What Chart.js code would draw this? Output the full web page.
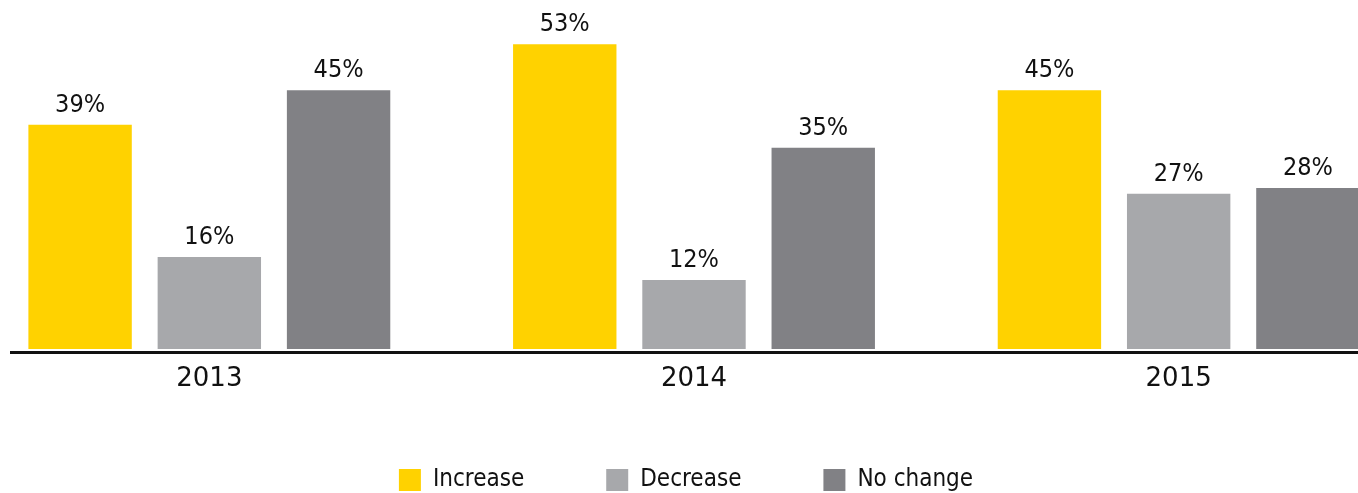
<!DOCTYPE html>
<html>
<head>
<meta charset="utf-8">
<script src="https://cdn.jsdelivr.net/npm/chart.js@4"></script>
<style>
  html, body { margin: 0; padding: 0; background: #fff; overflow: hidden; }
  /* plot is wider than the window so the outer groups sit near the edges */
  #wrap { position: absolute; left: -49px; top: 0; width: 1470px; height: 493px; }
</style>
</head>
<body>
<div id="wrap"><canvas id="changeChart"></canvas></div>
<script>
const years = ['2013', '2014', '2015'];
const increase = [39, 53, 45];
const decrease = [16, 12, 27];
const noChange = [45, 35, 28];

const YELLOW = '#FFD200';
const LIGHT_GREY = '#A7A8AB';
const DARK_GREY = '#818185';

// value labels above each bar
const barValues = {
    id: 'barValues',
    afterDatasetsDraw(chart) {
        const ctx = chart.ctx;
        ctx.save();
        ctx.font = '25px "DejaVu Sans Condensed"';
        ctx.fillStyle = '#111';
        ctx.textAlign = 'center';
        ctx.textBaseline = 'alphabetic';
        chart.data.datasets.forEach((ds, i) => {
            chart.getDatasetMeta(i).data.forEach((bar, j) => {
                ctx.fillText(ds.data[j] + '%', bar.x, bar.y - 13);
            });
        });
        ctx.restore();
    }
};

// heavy baseline under the bars
const baseLine = {
    id: 'baseLine',
    afterDatasetsDraw(chart) {
        const { ctx, chartArea, width } = chart;
        const y = chartArea.bottom + 3.5;
        ctx.save();
        ctx.strokeStyle = '#111';
        ctx.lineWidth = 3;
        ctx.beginPath();
        ctx.moveTo(59, y);
        ctx.lineTo(width, y);
        ctx.stroke();
        ctx.restore();
    }
};

new Chart(document.getElementById('changeChart'), {
    type: 'bar',
    data: {
        labels: years,
        datasets: [
            { label: 'Increase', data: increase, backgroundColor: YELLOW },
            { label: 'Decrease', data: decrease, backgroundColor: LIGHT_GREY },
            { label: 'No change', data: noChange, backgroundColor: DARK_GREY }
        ]
    },
    options: {
        responsive: true,
        maintainAspectRatio: false,
        animation: false,
        datasets: {
            bar: { barPercentage: 0.8, categoryPercentage: 0.8 }
        },
        layout: { padding: { top: 4, bottom: -9, left: 0, right: 0 } },
        plugins: {
            tooltip: { enabled: false },
            legend: {
                position: 'bottom',
                labels: {
                    boxWidth: 22,
                    boxHeight: 22,
                    padding: 82,
                    color: '#111',
                    font: { family: 'DejaVu Sans Condensed', size: 24 }
                }
            }
        },
        scales: {
            x: {
                grid: { display: false, drawTicks: false },
                border: { display: false },
                ticks: {
                    color: '#111',
                    padding: 15,
                    font: { family: 'DejaVu Sans', size: 26 }
                },
                // keep the year row tight so the legend sits low
                afterFit(scale) {
                    scale.height = 37;
                }
            },
            y: {
                min: 0,
                max: 60,
                grid: { display: false },
                border: { display: false },
                ticks: { display: false },
                // blank gutter on the left, nudges the legend row left
                afterFit(scale) {
                    scale.width = 16;
                }
            }
        }
    },
    plugins: [barValues, baseLine]
});
</script>
</body>
</html>
